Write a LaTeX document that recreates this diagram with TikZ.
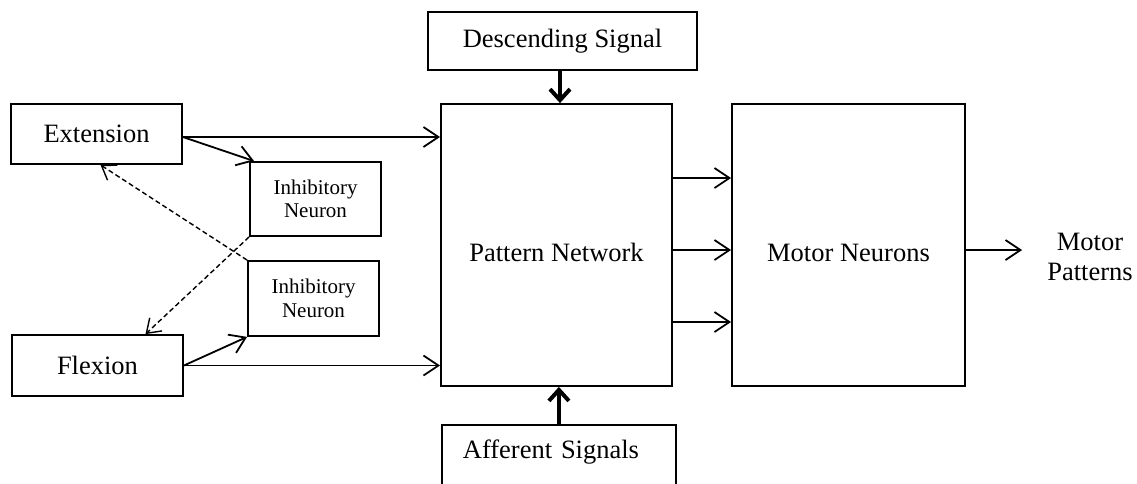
\documentclass[tikz,border=0pt]{standalone}
\usepackage{fontspec}
\setmainfont{Liberation Serif}
\usetikzlibrary{arrows.meta,calc}
\begin{document}
\begin{tikzpicture}[x=1pt,y=-1pt,
  box/.style={draw, line width=1.8pt, inner sep=0pt, align=center,
              font=\fontsize{26.5}{30}\selectfont},
  smallbox/.style={box, font=\fontsize{21}{23.5}\selectfont},
  plain/.style={inner sep=0pt, align=center, font=\fontsize{26.5}{29.5}\selectfont},
  arr/.style={line width=1.8pt, -{Straight Barb[length=15pt,width=20pt,line width=1.8pt]}},
  thick arr/.style={line width=4pt, -{Straight Barb[length=11pt,width=20pt,line width=4pt]}},
  dash arr/.style={line width=1.4pt, dash pattern=on 5pt off 3pt,
                   -{Straight Barb[length=13pt,width=18pt,line width=1.4pt]}}]
\useasboundingbox (0,0) rectangle (1137,483);
\clip (0,0) rectangle (1137,483);

% boxes
\node[box, minimum width=171pt, minimum height=60pt] (ext) at (96.5,134) {Extension};
\node[box, minimum width=171pt, minimum height=61pt] (flex) at (97.5,365.5) {Flexion};
\node[smallbox, minimum width=131pt, minimum height=74pt] (inh1) at (315.5,199) {Inhibitory\\Neuron};
\node[smallbox, minimum width=131pt, minimum height=75pt] (inh2) at (313.5,298.5) {Inhibitory\\Neuron};
\node[box, minimum width=231pt, minimum height=282pt, text height=38pt, text depth=6pt]
  (pat) at (556.5,245) {Pattern Network};
\node[box, minimum width=233pt, minimum height=282pt, text height=38pt, text depth=6pt]
  (mot) at (848.5,245) {Motor Neurons};
\node[box, minimum width=269pt, minimum height=58pt] (desc) at (562.5,41) {Descending Signal};
\node[box, anchor=north west, minimum width=234pt, minimum height=80pt,
      text width=192pt, inner xsep=21pt, align=left, text height=18pt, text depth=30pt]
  (aff) at (441,424) {Afferent Signals};
\node[plain] (out) at (1090,257) {Motor\\Patterns};

% inputs to the pattern network
\draw[arr] ([yshift=-3pt]ext.east) -- ([yshift=-3pt]ext.east -| pat.west);
\draw[arr] (flex.east) -- (flex.east -| pat.west);
\draw[arr] ([yshift=-3pt]ext.east) -- ([xshift=5pt]inh1.north west);
\draw[arr] (flex.east) -- (inh2.south west);

% reciprocal inhibition
\draw[dash arr] (inh2.north west) -- ([xshift=4pt]ext.south);
\draw[dash arr] (inh1.south west) -- ([xshift=48pt]flex.north);

% descending and afferent inputs
\draw[thick arr] ([xshift=-2.5pt]desc.south) -- ([xshift=-2.5pt]desc.south |- pat.north);
\draw[thick arr] (aff.north) -- (aff.north |- pat.south);

% pattern network to motor neurons
\foreach \dy in {67,-5,-77}
  \draw[arr] ([yshift=\dy pt]pat.east) -- ([yshift=\dy pt]pat.east -| mot.west);

% output
\coordinate (outend) at ([xshift=-25pt]out.west);
\draw[arr] ([yshift=-5pt]mot.east) -- ([yshift=-5pt]mot.east -| outend);
\end{tikzpicture}
\end{document}
